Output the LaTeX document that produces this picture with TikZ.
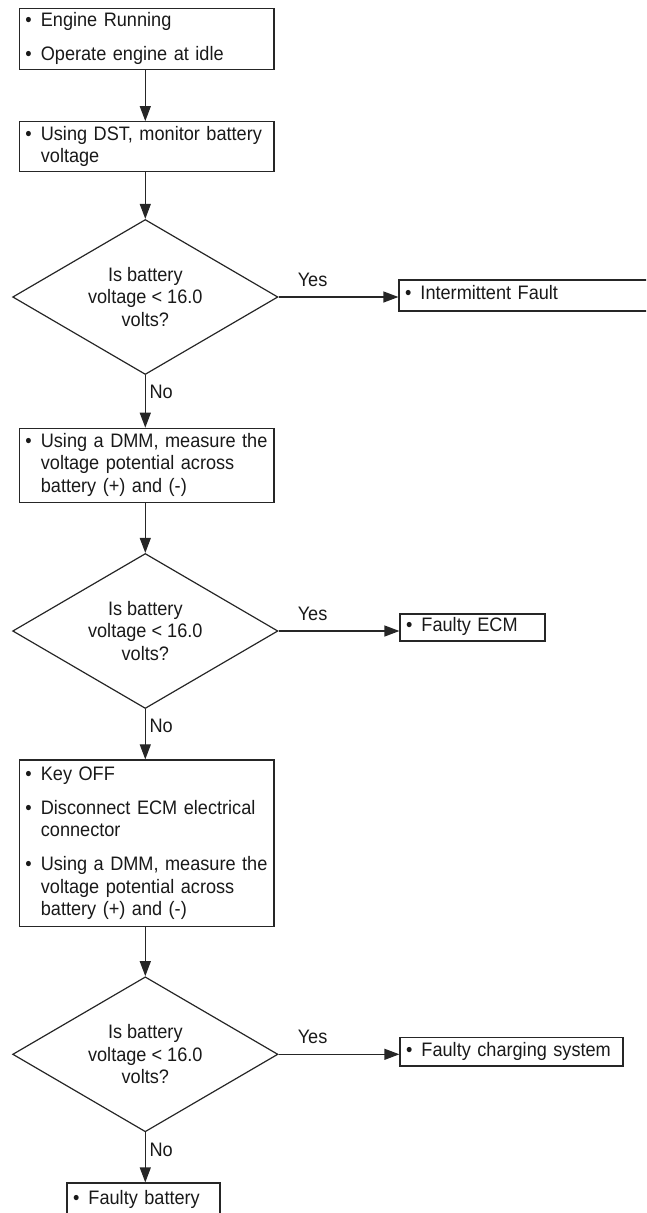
\documentclass[tikz,border=0pt]{standalone}
\usepackage{fontspec}
\setmainfont{Liberation Sans}[FakeStretch=0.93]
\usetikzlibrary{shapes.geometric,arrows.meta,calc}
\newcommand{\bitems}[1]{\begin{tabular}{@{}p{15.5pt}@{}l@{}}#1\end{tabular}}
\begin{document}
\begin{tikzpicture}[x=1pt,y=-1pt,
  line width=1.2pt,
  every node/.style={text=black!90, font=\fontsize{19.5}{22.3}\selectfont},
  box/.style={draw=black!85, rectangle, inner xsep=6pt, inner ysep=0pt, align=left},
  dec/.style={draw=black!85, diamond, inner sep=0pt, aspect=1.72, minimum width=265.3pt, minimum height=155pt, align=center},
  arr/.style={draw=black!85, -{Triangle[length=15pt,width=11pt]}},
  lbl/.style={inner sep=0pt}
]
\useasboundingbox (0,0) rectangle (646,1213);
\clip (0,0) rectangle (646,1213);

% main column
\node[box, text width=242.7pt, minimum height=61pt] (b1) at (146.7,38.8)
  {\bitems{\textbullet & Engine Running\\[12pt] \textbullet & Operate engine at idle}};
\node[box, text width=242.7pt, minimum height=50pt] (b2) at (146.7,146.7)
  {\bitems{\textbullet & Using DST, monitor battery\\ & voltage}};
\node[dec] (d1) at (145.3,297) {Is battery\\voltage < 16.0\\volts?};
\node[box, text width=242.7pt, minimum height=74.4pt] (b3) at (146.7,465.5)
  {\bitems{\textbullet & Using a DMM, measure the\\ & voltage potential across\\ & battery (+) and (-)}};
\node[dec] (d2) at (145.3,631) {Is battery\\voltage < 16.0\\volts?};
\node[box, text width=242.7pt, minimum height=166.7pt] (b4) at (146.7,843.3)
  {\bitems{\textbullet & Key OFF\\[12pt] \textbullet & Disconnect ECM electrical\\ & connector\\[12pt] \textbullet & Using a DMM, measure the\\ & voltage potential across\\ & battery (+) and (-)}};
\node[dec] (d3) at (145.3,1054.3) {Is battery\\voltage < 16.0\\volts?};
\node[box, text width=141pt, minimum height=34pt] (s4) at (143.5,1200)
  {\bitems{\textbullet & Faulty battery}};

% side results
\node[box, text width=269pt, minimum height=31pt] (s1) at (539.5,295.5)
  {\bitems{\textbullet & Intermittent Fault}};
\node[box, text width=133pt, minimum height=27pt] (s2) at (472.5,627.5)
  {\bitems{\textbullet & Faulty ECM}};
\node[box, text width=211pt, minimum height=28.3pt] (s3) at (511.5,1051.9)
  {\bitems{\textbullet & Faulty charging system}};

% vertical connectors
\draw[arr] (b1.south -| d1.north) -- (b2.north -| d1.north);
\draw[arr] (b2.south -| d1.north) -- (d1.north);
\draw[arr] (d1.south) -- (b3.north -| d1.south);
\draw[arr] (b3.south -| d2.north) -- (d2.north);
\draw[arr] (d2.south) -- (b4.north -| d2.south);
\draw[arr] (b4.south -| d3.north) -- (d3.north);
\draw[arr] (d3.south) -- (s4.north -| d3.south);

% yes connectors
\draw[arr] (d1.east) -- (d1.east -| s1.west);
\draw[arr] (d2.east) -- (d2.east -| s2.west);
\draw[arr] (d3.east) -- (d3.east -| s3.west);

% labels
\node[lbl] (y1) at ($(d1.east)+(34,-17)$) {Yes};
\node[lbl] (y2) at ($(d2.east)+(34,-17)$) {Yes};
\node[lbl] (y3) at ($(d3.east)+(34,-17)$) {Yes};
\node[lbl, anchor=west] (n1) at ($(d1.south)+(3.6,17)$) {No};
\node[lbl, anchor=west] (n2) at ($(d2.south)+(3.6,17)$) {No};
\node[lbl, anchor=west] (n3) at ($(d3.south)+(3.6,17)$) {No};
\end{tikzpicture}
\end{document}
